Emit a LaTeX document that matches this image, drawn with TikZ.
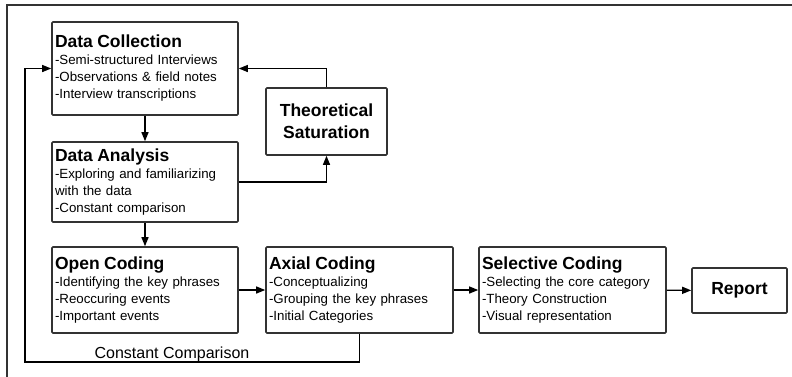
\documentclass[tikz,border=0pt]{standalone}
\usepackage{fontspec}
\setmainfont{Liberation Sans}
\usetikzlibrary{arrows.meta}
\definecolor{boxline}{HTML}{333333}
\newcommand{\ttl}[1]{{\fontsize{17.5}{21}\selectfont\bfseries #1}\\}
\tikzset{
  stage/.style={draw=boxline, line width=1.6pt, rounded corners=1pt, align=left,
    inner xsep=3pt, inner ysep=0pt, font=\fontsize{13.3}{17}\selectfont},
  flow/.style={line width=1.3pt, -{Triangle[length=9pt,width=7pt]}},
  plain/.style={line width=1.3pt}
}
\begin{document}
\begin{tikzpicture}[x=1pt,y=-1pt]
\useasboundingbox (0,0) rectangle (792,376);
\begin{scope}
\clip (0,0) rectangle (792,376);
\draw[line width=1.5pt, draw=boxline] (7,5) rectangle (820,400);
\end{scope}
\node[stage, text width=180pt, minimum height=93pt] (dc) at (145,68.5)
  {\ttl{Data Collection}-Semi-structured Interviews\\-Observations \& field notes\\-Interview transcriptions};
\node[stage, align=center, minimum width=121pt, minimum height=67pt, font=\fontsize{17.5}{22}\selectfont\bfseries] (ts) at (326.5,121.5)
  {Theoretical\\Saturation};
\node[stage, text width=180pt, minimum height=80pt] (da) at (145,182)
  {\ttl{Data Analysis}-Exploring and familiarizing\\with the data\\-Constant comparison};
\node[stage, text width=180pt, minimum height=86pt] (oc) at (145,290)
  {\ttl{Open Coding}-Identifying the key phrases\\-Reoccuring events\\-Important events};
\node[stage, text width=181pt, minimum height=86pt] (ac) at (359.5,290)
  {\ttl{Axial Coding}-Conceptualizing\\-Grouping the key phrases\\-Initial Categories};
\node[stage, text width=181pt, minimum height=86pt] (sc) at (572.5,290)
  {\ttl{Selective Coding}-Selecting the core category\\-Theory Construction\\-Visual representation};
\node[stage, align=center, minimum width=95pt, minimum height=45pt, font=\fontsize{17.5}{21}\selectfont\bfseries] (rp) at (739.5,290.5)
  {Report};
\coordinate (lc) at (25,362);
\draw[flow] (dc) -- (da);
\draw[flow] (da) -- (oc);
\draw[flow] (da.east) -| (ts.south);
\draw[flow] (ts.north) |- (dc.east);
\draw[flow] (oc) -- (ac);
\draw[flow] (ac) -- (sc);
\draw[flow] (sc) -- (rp);
\draw[flow] (ac.south) |- (lc) |- (dc.west);
\node[anchor=base, font=\fontsize{16}{19}\selectfont, inner sep=0pt] (cc) at (172,358) {Constant Comparison};
\end{tikzpicture}
\end{document}
